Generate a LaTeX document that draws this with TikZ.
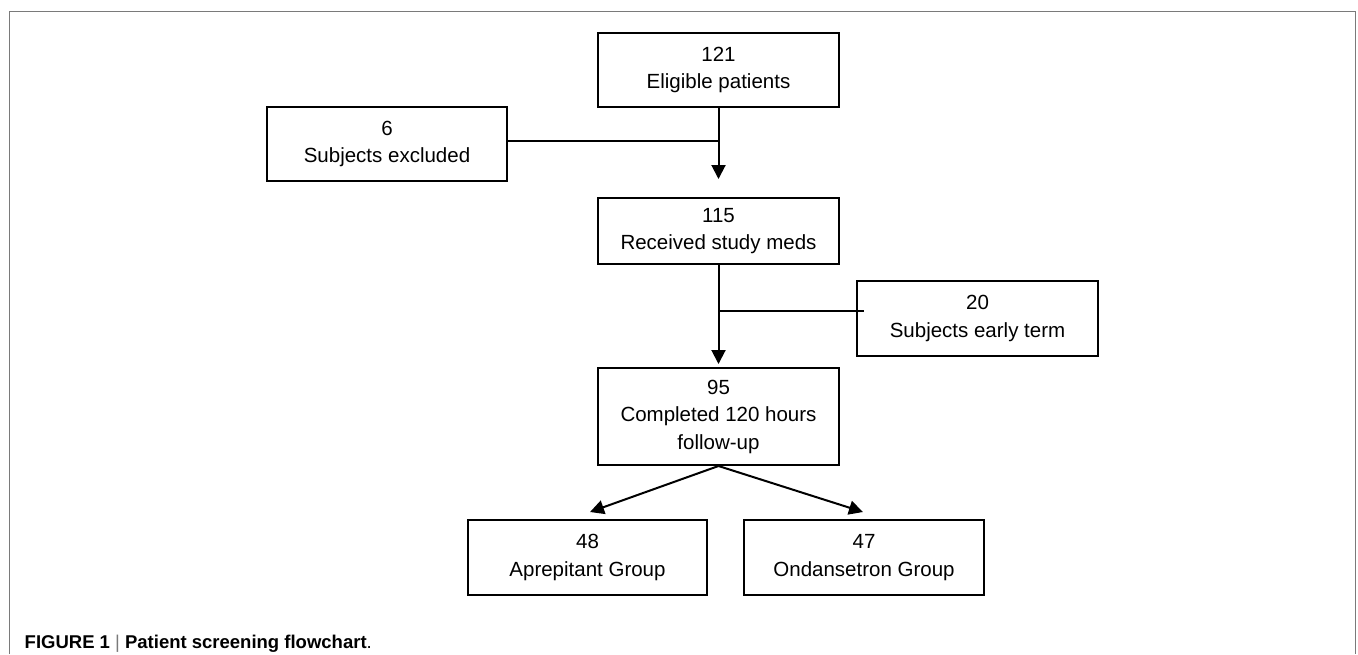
\documentclass[tikz,border=0pt]{standalone}
\usepackage{fontspec}
\setmainfont{Liberation Sans}
\usetikzlibrary{arrows.meta,calc}
\definecolor{framegray}{HTML}{7A7A7A}
\begin{document}
\begin{tikzpicture}[x=1pt,y=-1pt,
  box/.style={draw=black, line width=2pt, align=center, inner sep=0pt,
    font=\fontsize{20.5}{27.5}\selectfont},
  conn/.style={line width=2pt, draw=black},
  arr/.style={conn, -{Triangle[length=14pt,width=14pt]}}]
\useasboundingbox (0,0) rectangle (1358,654);
\draw[framegray, line width=1.8pt] (9.5,654) -- (9.5,11.5) -- (1355.5,11.5) -- (1355.5,654);

\node[box, minimum width=241pt, minimum height=74pt] (n121) at (718.5,70) {121\\Eligible patients};
\node[box, minimum width=240pt, minimum height=74pt] (n6) at (387,144) {6\\Subjects excluded};
\node[box, minimum width=241pt, minimum height=66pt] (n115) at (718.5,231) {115\\Received study meds};
\node[box, minimum width=241pt, minimum height=75pt] (n20) at (977.5,318.5) {20\\Subjects early term};
\node[box, minimum width=241pt, minimum height=97pt] (n95) at (718.5,416.5) {95\\Completed 120 hours\\follow-up};
\node[box, minimum width=239pt, minimum height=75pt] (n48) at (587.5,557.5) {48\\Aprepitant Group};
\node[box, minimum width=240pt, minimum height=75pt] (n47) at (864,557.5) {47\\Ondansetron Group};

\draw[arr, shorten >=18pt] (n121.south) -- (n115.north);
\coordinate (j1) at ($(n6.east)+(0,-3)$);
\draw[conn] (j1) -- (j1 -| n121.south);
\draw[arr, shorten >=3pt] (n115.south) -- (n95.north);
\coordinate (j2) at (718.5,311);
\coordinate (e20) at ($(n20.west)+(8,-7.5)$);
\draw[conn] (j2) -- (e20);
\draw[arr] (n95.south) -- ($(n48.north)+(2.5,-7)$);
\draw[arr] (n95.south) -- ($(n47.north)+(-1,-7)$);

\node[anchor=base west, inner sep=0pt, font=\fontsize{18.5}{22}\selectfont] (cap) at (24.5,648)
  {\textbf{FIGURE 1} {\color{framegray}|} \textbf{Patient screening flowchart}.};
\end{tikzpicture}
\end{document}
